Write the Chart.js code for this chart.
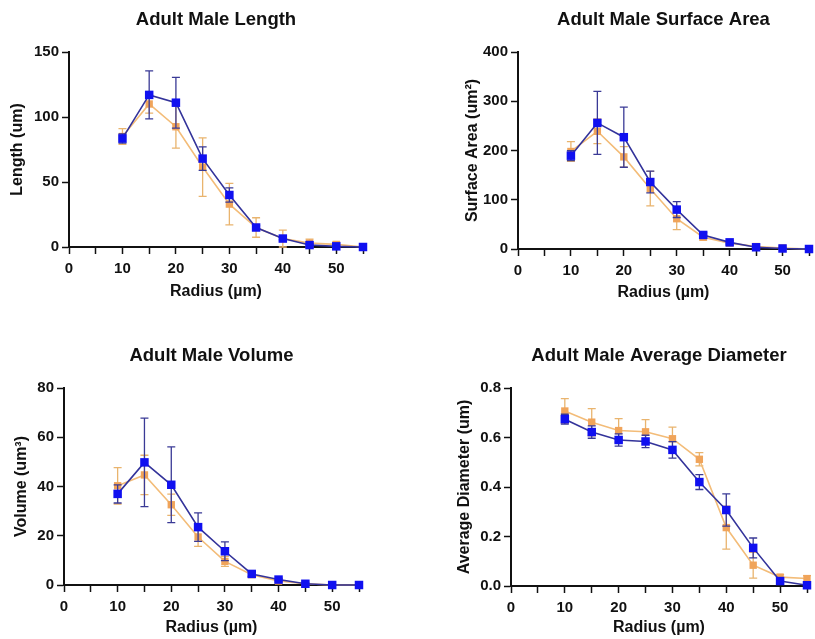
<!DOCTYPE html>
<html><head><meta charset="utf-8">
<script src="https://cdn.jsdelivr.net/npm/chart.js@4.4.1/dist/chart.umd.min.js"></script>
<style>
html,body{margin:0;padding:0;background:#fff;width:815px;height:639px;overflow:hidden;}
canvas{position:absolute;}
</style></head><body>
<canvas id="c1" width="410" height="320" style="left:0;top:0"></canvas>
<canvas id="c2" width="405" height="320" style="left:410px;top:0"></canvas>
<canvas id="c3" width="410" height="319" style="left:0;top:320px"></canvas>
<canvas id="c4" width="405" height="319" style="left:410px;top:320px"></canvas>
<script>
// ---- data ----
const radius = [10, 15, 20, 25, 30, 35, 40, 45, 50, 55];

const lengthBlue      = [83.5, 117, 111, 68, 40, 15, 6.5, 1.5, 0.5, 0];
const lengthBlueErr   = [3.5, 18.5, 19.5, 9, 5.5, 1.5, 1, 0.8, 0.3, 0];
const lengthOrange    = [85, 110, 92.5, 61.5, 33, 15, 6.5, 3, 2, 0];
const lengthOrangeErr = [6, 7, 16.5, 22.5, 16, 7.5, 6.5, 3, 2, 0];

const areaBlue      = [189.5, 256, 227, 136, 80, 28.5, 13.5, 3.5, 1, 0];
const areaBlueErr   = [10, 64, 61, 22, 16, 5, 3, 2, 1, 0];
const areaOrange    = [198, 239, 187, 122.5, 61.5, 24, 12, 5, 2, 0];
const areaOrangeErr = [20, 25, 21, 35, 22, 6, 4, 4, 2, 0];

const volumeBlue      = [37, 49.8, 40.7, 23.5, 13.7, 4.5, 2.2, 0.5, 0, 0];
const volumeBlueErr   = [3.7, 18, 15.4, 5.8, 3.8, 1, 0.5, 0.3, 0, 0];
const volumeOrange    = [40.3, 44.7, 32.6, 19.5, 9.6, 4.2, 1.6, 0.5, 0, 0];
const volumeOrangeErr = [7.4, 8, 4.3, 3.8, 2, 1, 0.6, 0.4, 0, 0];

const diamBlue      = [0.674, 0.622, 0.59, 0.584, 0.55, 0.42, 0.307, 0.154, 0.02, 0.003];
const diamBlueErr   = [0.02, 0.025, 0.025, 0.025, 0.033, 0.03, 0.065, 0.04, 0.01, 0.003];
const diamOrange    = [0.707, 0.662, 0.628, 0.623, 0.595, 0.512, 0.236, 0.084, 0.036, 0.03];
const diamOrangeErr = [0.05, 0.055, 0.048, 0.049, 0.047, 0.027, 0.087, 0.052, 0.01, 0.012];

const titles = ['Adult Male Length', 'Adult Male Surface Area', 'Adult Male Volume', 'Adult Male Average Diameter'];
const yTitles = ['Length (um)', 'Surface Area (um\u00B2)', 'Volume (um\u00B3)', 'Average Diameter (um)'];
const xTitle = 'Radius (\u00B5m)';
const yMax = [150, 400, 80, 0.8];
const yStep = [50, 100, 20, 0.2];
const xMax = 55, xStep = 5, xLabelEvery = 10;

// ---- styles / layout ----
const FONT = '"Liberation Sans", Arial, Helvetica, sans-serif';
const INK = '#111111';
const BLUE_PT = '#1010f0', BLUE_LINE = '#33339a', BLUE_ERR = '#3a3a96';
const ORANGE_PT = '#f0a45a', ORANGE_LINE = '#f3bc78', ORANGE_ERR = '#e9b46e';

const layouts = [
  {W:410, H:320, L:69,  R:363, T:52, B:247, titleY:20, xTitleY:292, yTitleX:18},
  {W:405, H:320, L:108, R:403, T:52, B:249, titleY:20, xTitleY:293, yTitleX:63},
  {W:410, H:319, L:64,  R:359, T:68, B:265, titleY:36, xTitleY:308, yTitleX:22},
  {W:405, H:319, L:101, R:397, T:68, B:266, titleY:36, xTitleY:308, yTitleX:55}
];

const errorBars = {
  id: 'errorBars',
  beforeDatasetDraw(chart, args) {
    const ds = chart.data.datasets[args.index];
    if (!ds.errors) return;
    const ctx = chart.ctx, ys = chart.scales.y;
    ctx.save();
    ctx.strokeStyle = ds.errorColor;
    ctx.lineWidth = 1.3;
    args.meta.data.forEach((pt, i) => {
      const e = ds.errors[i];
      if (!e) return;
      const v = ds.data[i].y;
      const x = pt.x;
      const yt = ys.getPixelForValue(v + e), yb = ys.getPixelForValue(v - e);
      const cap = 4;
      ctx.beginPath();
      ctx.moveTo(x, yt); ctx.lineTo(x, yb);
      ctx.moveTo(x - cap, yt); ctx.lineTo(x + cap, yt);
      ctx.moveTo(x - cap, yb); ctx.lineTo(x + cap, yb);
      ctx.stroke();
    });
    ctx.restore();
  }
};

function pts(vals) { return radius.map((r, i) => ({x: r, y: vals[i]})); }

function makeChart(id, idx, blue, blueErr, orange, orangeErr) {
  const lay = layouts[idx];
  const tFont = 18.5, tLH = tFont * 1.2;
  const aFont = 16, aLH = aFont * 1.2;
  new Chart(document.getElementById(id), {
    type: 'line',
    data: {
      datasets: [
        { label: 'Series 2', data: pts(blue), errors: blueErr, errorColor: BLUE_ERR,
          borderColor: BLUE_LINE, borderWidth: 1.6, backgroundColor: BLUE_PT,
          pointStyle: 'rect', pointRadius: 6, pointBackgroundColor: BLUE_PT,
          pointBorderColor: BLUE_PT, pointBorderWidth: 0, tension: 0, clip: false },
        { label: 'Series 1', data: pts(orange), errors: orangeErr, errorColor: ORANGE_ERR,
          borderColor: ORANGE_LINE, borderWidth: 1.6, backgroundColor: ORANGE_PT,
          pointStyle: 'rect', pointRadius: 5.2, pointBackgroundColor: ORANGE_PT,
          pointBorderColor: ORANGE_PT, pointBorderWidth: 0, tension: 0, clip: false }
      ]
    },
    options: {
      responsive: false, animation: false, devicePixelRatio: 1,
      layout: { padding: { left: 0, top: 0, bottom: 0, right: lay.W - lay.R } },
      plugins: {
        legend: { display: false }, tooltip: { enabled: false },
        title: { display: true, text: titles[idx], fullSize: false, color: INK,
          font: { family: FONT, size: tFont, weight: 'bold', lineHeight: 1.2 },
          padding: { top: lay.titleY - tLH / 2, bottom: lay.T - (lay.titleY - tLH / 2) - tLH } }
      },
      scales: {
        x: {
          type: 'linear', min: 0, max: xMax,
          afterFit(s) { s.height = lay.H - lay.B; },
          border: { display: true, color: INK, width: 2 },
          grid: { display: true, drawOnChartArea: false, drawTicks: true, tickLength: 7, tickWidth: 1.5, tickColor: INK },
          ticks: { stepSize: xStep, autoSkip: false, maxRotation: 0, padding: 6, color: INK,
            font: { family: FONT, size: 15, weight: 'bold' },
            callback: v => (v % xLabelEvery === 0 ? String(v) : '') },
          title: { display: true, text: xTitle, color: INK,
            font: { family: FONT, size: aFont, weight: 'bold', lineHeight: 1.2 },
            padding: { top: 0, bottom: lay.H - aLH / 2 - lay.xTitleY } }
        },
        y: {
          type: 'linear', min: 0, max: yMax[idx],
          afterFit(s) { s.width = lay.L; },
          border: { display: true, color: INK, width: 2 },
          grid: { display: true, drawOnChartArea: false, drawTicks: true, tickLength: 7, tickWidth: 1.5, tickColor: INK },
          ticks: { stepSize: yStep[idx], padding: 3, color: INK,
            font: { family: FONT, size: 15, weight: 'bold' },
            callback: v => (yStep[idx] < 1 ? Number(v).toFixed(1) : String(Math.round(v))) },
          title: { display: true, text: yTitles[idx], color: INK,
            font: { family: FONT, size: aFont, weight: 'bold', lineHeight: 1.2 },
            padding: { top: lay.yTitleX - aLH / 2, bottom: 0 } }
        }
      }
    },
    plugins: [errorBars]
  });
}

makeChart('c1', 0, lengthBlue, lengthBlueErr, lengthOrange, lengthOrangeErr);
makeChart('c2', 1, areaBlue, areaBlueErr, areaOrange, areaOrangeErr);
makeChart('c3', 2, volumeBlue, volumeBlueErr, volumeOrange, volumeOrangeErr);
makeChart('c4', 3, diamBlue, diamBlueErr, diamOrange, diamOrangeErr);
</script>
</body></html>
